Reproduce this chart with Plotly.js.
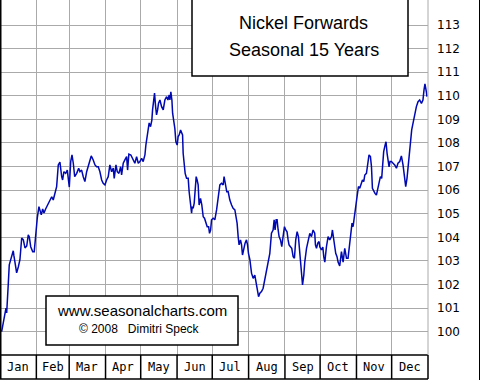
<!DOCTYPE html>
<html>
<head>
<meta charset="utf-8">
<script src="https://cdn.plot.ly/plotly-3.0.1.min.js"></script>
<style>html,body{margin:0;padding:0;background:#fff;}#chart{width:480px;height:380px;}</style>
</head>
<body>
<div id="chart"></div>
<script>
// Day of year (0..365) and seasonal index value
const days = [1.4,2.3,3.4,4.3,5.1,5.7,6.2,7.1,7.9,9.1,10.0,11.3,11.9,12.8,14.2,15.6,17.0,18.5,19.9,21.3,22.8,24.1,25.0,26.2,27.9,29.2,29.8,30.7,31.8,33.2,34.1,35.2,36.4,37.5,38.9,39.8,41.2,42.6,44.1,45.4,46.9,48.3,49.7,51.1,52.6,53.4,54.5,56.0,57.4,58.2,59.1,60.3,61.4,62.5,63.7,65.4,67.1,68.2,69.6,71.0,72.4,73.9,75.2,76.7,77.8,79.5,81.0,82.4,83.8,85.2,86.7,88.0,89.5,90.9,92.3,93.7,95.2,96.6,97.4,98.9,100.0,101.4,102.9,103.7,105.1,106.5,108.0,108.8,109.9,111.6,113.6,115.0,116.5,117.9,119.3,120.8,122.1,123.6,124.4,125.5,126.4,127.2,128.4,129.5,130.1,131.0,131.8,132.7,133.5,134.4,135.2,136.4,137.8,139.2,140.6,142.1,143.2,144.3,144.9,145.7,146.6,147.2,148.3,149.1,150.0,151.1,151.9,152.8,154.0,154.8,155.7,156.2,157.1,157.9,159.1,160.5,161.3,162.5,163.4,163.9,164.7,165.6,166.4,167.3,168.1,169.0,169.8,171.0,172.1,173.3,174.4,175.6,176.7,177.9,178.7,179.6,180.4,181.8,183.2,184.7,186.0,187.5,188.9,190.3,191.1,192.3,193.4,194.6,196.0,197.5,198.8,200.3,201.1,202.2,203.1,203.9,205.1,206.0,206.8,207.9,209.0,210.2,211.1,211.9,213.1,214.5,215.9,217.3,218.2,219.3,220.5,221.6,223.0,224.4,225.8,227.3,228.6,230.1,231.5,232.9,233.8,234.6,235.5,236.3,237.2,238.0,239.2,240.3,241.4,242.6,243.7,244.8,245.7,246.5,247.7,248.8,250.0,251.1,252.2,253.4,254.5,255.7,257.1,258.0,259.1,259.9,261.4,262.7,264.2,265.6,267.0,268.4,269.0,269.9,271.0,272.1,272.7,274.1,275.3,276.1,277.0,278.4,279.8,281.2,282.7,283.5,284.6,285.5,286.3,287.4,288.3,289.7,291.2,292.6,294.0,295.5,296.8,298.3,299.1,300.2,301.1,301.9,302.8,303.4,304.5,305.7,306.8,308.2,309.1,310.2,311.1,312.5,313.4,314.7,315.9,316.8,317.6,318.7,319.8,321.0,322.4,323.2,324.4,325.5,326.4,327.2,328.4,329.2,330.1,330.9,331.8,332.6,333.8,335.2,336.6,338.1,339.4,340.9,342.3,343.7,344.9,346.0,347.1,348.0,348.8,350.0,351.1,352.2,353.7,355.1,356.5,357.9,359.4,360.7,361.6,362.4,363.6,364.1];
const values = [100.00,100.21,100.58,100.71,101.00,100.79,101.13,102.06,102.83,103.05,103.14,103.43,103.21,102.95,102.49,102.74,103.05,103.97,103.89,103.55,103.63,104.10,104.01,103.60,103.39,103.39,103.76,104.40,104.82,105.30,105.16,104.95,105.20,105.03,105.20,105.29,105.37,105.58,105.72,105.58,105.93,106.15,107.07,107.19,106.57,106.43,106.78,106.71,106.85,106.43,106.13,107.21,107.49,107.14,106.57,106.71,106.93,106.78,106.85,106.57,106.36,106.78,106.99,107.21,107.45,107.28,107.07,106.99,106.99,106.78,106.43,106.29,106.22,106.43,106.57,107.07,106.78,106.93,106.50,107.07,106.78,106.71,106.99,106.64,107.14,107.28,107.42,106.85,107.53,107.49,107.28,107.14,107.42,107.14,107.21,107.35,107.21,107.49,107.91,108.27,108.55,108.85,108.69,108.97,109.40,109.96,110.11,109.54,109.19,109.40,109.68,109.82,109.54,109.40,109.82,109.96,109.82,110.03,109.82,110.17,109.82,109.26,108.97,108.62,108.05,107.91,108.27,108.34,108.55,108.47,108.34,107.56,106.85,106.71,106.50,106.50,105.93,105.30,105.02,105.30,105.23,105.44,106.01,106.57,106.43,106.22,105.37,105.65,105.37,104.87,104.81,104.60,104.45,104.45,104.17,104.31,104.74,104.81,104.74,105.16,105.79,106.22,106.29,106.22,106.57,106.22,105.93,105.93,105.58,105.37,105.23,105.16,104.87,104.60,104.03,103.68,103.89,103.68,103.25,103.55,103.75,103.89,103.68,103.32,103.05,102.48,102.26,102.40,102.12,101.70,101.48,101.63,101.70,101.84,102.19,102.54,102.95,103.32,104.17,104.31,104.74,104.31,104.74,104.74,104.31,104.03,103.89,103.60,104.03,104.45,104.31,104.23,103.89,103.68,103.60,103.53,103.18,103.11,103.89,104.24,104.03,103.18,102.19,101.98,102.40,102.95,103.53,103.89,104.17,104.03,104.31,104.17,103.68,103.53,103.75,103.82,103.60,103.46,103.59,103.18,102.95,103.60,104.03,103.89,104.03,104.31,103.75,103.60,103.32,103.18,102.95,102.79,103.39,102.95,103.53,103.11,103.11,103.75,104.31,104.60,104.45,104.81,105.23,105.30,105.72,106.15,106.08,106.29,106.43,106.36,106.64,106.71,107.14,107.49,107.42,106.99,106.08,105.93,105.86,105.79,106.15,106.43,106.57,106.50,107.14,107.63,107.91,108.05,107.56,107.14,106.99,107.21,107.21,107.14,107.07,106.93,107.14,107.21,107.45,107.07,106.64,106.15,106.50,106.99,107.21,107.99,108.55,108.83,109.26,109.54,109.75,109.82,109.68,109.82,110.25,110.50,110.17,109.96];

const monthLabels = ['Jan','Feb','Mar','Apr','May','Jun','Jul','Aug','Sep','Oct','Nov','Dec'];
const monthStarts = [0,31,59,90,120,151,181,212,243,273,304,334,365];
const yTicks = [100,101,102,103,104,105,106,107,108,109,110,111,112,113];
const titleLines = ['Nickel Forwards','Seasonal 15 Years'];
const creditLines = ['www.seasonalcharts.com','\u00a9 2008\u00a0\u00a0\u00a0Dimitri Speck'];

const PW = 428, PH = 355; // plot area size in px
const px = v => v / PW;            // horizontal px -> paper
const py = v => 1 - v / PH;        // vertical px from top -> paper

const shapes = [];
// month row
const rowBottom = -24 / PH;
shapes.push({type:'line', xref:'paper', yref:'paper', x0:0, x1:1, y0:0, y1:0, line:{color:'#000', width:1.5}});
shapes.push({type:'line', xref:'paper', yref:'paper', x0:0, x1:1, y0:rowBottom, y1:rowBottom, line:{color:'#000', width:1.5}});
monthStarts.forEach(d => {
  shapes.push({type:'line', xref:'paper', yref:'paper', x0:d/365, x1:d/365, y0:rowBottom, y1:0, line:{color:'#000', width:1.5}});
});
// right plot edge (gray)
shapes.push({type:'line', xref:'paper', yref:'paper', x0:1, x1:1, y0:0, y1:1, line:{color:'#aaaaaa', width:1}});
// left border and outer right border
shapes.push({type:'line', xref:'paper', yref:'paper', x0:0, x1:0, y0:rowBottom, y1:1, line:{color:'#000', width:3}});
shapes.push({type:'line', xref:'paper', yref:'paper', x0:px(479.5), x1:px(479.5), y0:rowBottom - 1/PH, y1:1, line:{color:'#000', width:1}});
// title box
shapes.push({type:'rect', xref:'paper', yref:'paper', x0:px(192), x1:px(408), y0:py(76), y1:1.01, fillcolor:'#fff', line:{color:'#000', width:1.5}, layer:'above'});
// credit box
shapes.push({type:'rect', xref:'paper', yref:'paper', x0:px(46), x1:px(238), y0:py(345), y1:py(296), fillcolor:'#fff', line:{color:'#000', width:1.5}, layer:'above'});

const annotations = [];
monthLabels.forEach((m, i) => {
  annotations.push({xref:'x', yref:'paper', x:(monthStarts[i]+monthStarts[i+1])/2, y:-12/PH, text:m, showarrow:false,
    xanchor:'center', yanchor:'middle', font:{family:'DejaVu Sans Mono', size:12, color:'#000'}});
});
annotations.push({xref:'paper', yref:'paper', x:px(303.5), y:py(23), text:titleLines[0], showarrow:false, xanchor:'center', yanchor:'middle', font:{family:'Liberation Sans, Arial', size:18, color:'#000'}});
annotations.push({xref:'paper', yref:'paper', x:px(303.5), y:py(50), text:titleLines[1], showarrow:false, xanchor:'center', yanchor:'middle', font:{family:'Liberation Sans, Arial', size:18, color:'#000'}});
annotations.push({xref:'paper', yref:'paper', x:px(141.7), y:py(310), text:creditLines[0], showarrow:false, xanchor:'center', yanchor:'middle', font:{family:'Liberation Sans, Arial', size:15, color:'#000'}});
annotations.push({xref:'paper', yref:'paper', x:px(139.2), y:py(329), text:creditLines[1], showarrow:false, xanchor:'center', yanchor:'middle', font:{family:'Liberation Sans, Arial', size:12, color:'#000'}});

const trace = {x:days, y:values, type:'scatter', mode:'lines', line:{color:'#0008b0', width:1.5}, hoverinfo:'skip'};

const layout = {
  width:480, height:380,
  margin:{l:0, r:52, t:0, b:25, pad:0},
  paper_bgcolor:'#fff', plot_bgcolor:'#fff',
  showlegend:false,
  xaxis:{range:[0,365], tickvals:monthStarts, showticklabels:false, ticks:'', showgrid:true, gridcolor:'#aaaaaa', gridwidth:1, zeroline:false, showline:false, fixedrange:true},
  yaxis:{range:[99.01,114.06], side:'right', tickvals:yTicks, ticktext:yTicks.map(String), showgrid:true, gridcolor:'#aaaaaa', gridwidth:1, zeroline:false, showline:false, ticks:'', ticklabelstandoff:8, tickfont:{family:'DejaVu Sans', size:12, color:'#000'}, fixedrange:true},
  shapes:shapes, annotations:annotations
};

Plotly.newPlot('chart', [trace], layout, {staticPlot:true, displayModeBar:false});
</script>
</body>
</html>
